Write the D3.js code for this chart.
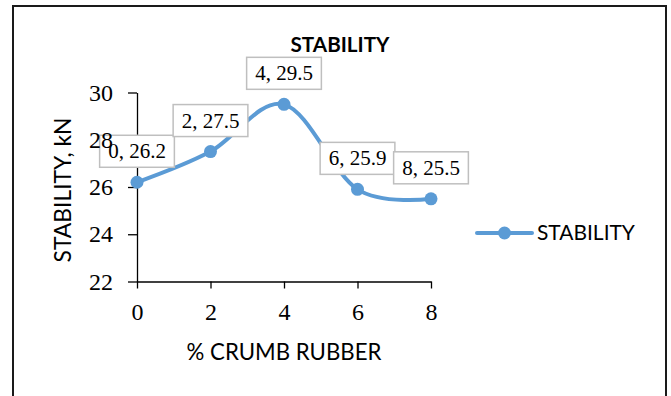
<!DOCTYPE html>
<html>
<head>
<meta charset="utf-8">
<script src="https://cdn.jsdelivr.net/npm/d3@7"></script>
<style>
  body { margin: 0; background: #fff; }
  svg { display: block; }
</style>
</head>
<body>
<div id="chart"></div>
<script>
const crumbRubber = [0, 2, 4, 6, 8];
const stability = [26.2, 27.5, 29.5, 25.9, 25.5];
const xTicks = [0, 2, 4, 6, 8];
const yTicks = [22, 24, 26, 28, 30];
const seriesName = "STABILITY";

const width = 671;
const height = 396;
const blue = "#5B9BD5";
const sans = "Lato, 'Open Sans', sans-serif";
const serif = "'Liberation Serif', 'Times New Roman', serif";

const svg = d3.select("#chart")
    .append("svg")
    .attr("width", width)
    .attr("height", height);

// chart frame (bottom edge runs past the picture)
svg.append("rect")
    .attr("x", 13)
    .attr("y", 6)
    .attr("width", 653)
    .attr("height", 420)
    .attr("fill", "#fff")
    .attr("stroke", "#1a1a1a")
    .attr("stroke-width", 2);

const x = d3.scaleLinear().domain([0, 8]).range([137, 431]);
const y = d3.scaleLinear().domain([22, 30]).range([281.5, 92.5]);

// shrink/grow a sans label so it takes the same room as in the picture
function fitWidth(sel, target) {
    const w = sel.node().getComputedTextLength();
    const size = parseFloat(sel.attr("font-size"));
    sel.attr("font-size", size * target / w);
}

const xAxis = svg.append("g")
    .attr("transform", `translate(0, ${y(22)})`)
    .call(d3.axisBottom(x).tickValues(xTicks).tickSize(7).tickSizeOuter(0).tickPadding(14));

const yAxis = svg.append("g")
    .attr("transform", `translate(${x(0)}, 0)`)
    .call(d3.axisLeft(y).tickValues(yTicks).tickSize(9).tickSizeOuter(0).tickPadding(15));

[xAxis, yAxis].forEach(a => {
    a.select(".domain").attr("stroke", "#000").attr("stroke-width", 1.3);
    a.selectAll(".tick line").attr("stroke", "#000").attr("stroke-width", 1.3);
    a.selectAll("text").remove();
});

const pts = crumbRubber.map((v, i) => ({ x: v, y: stability[i] }));

const line = d3.line()
    .x(d => x(d.x))
    .y(d => y(d.y))
    .curve(d3.curveCatmullRom.alpha(0));

svg.append("path")
    .datum(pts)
    .attr("d", line)
    .attr("fill", "none")
    .attr("stroke", blue)
    .attr("stroke-width", 4)
    .attr("stroke-linecap", "round");

svg.selectAll(".dot")
    .data(pts)
    .enter().append("circle")
    .attr("class", "dot")
    .attr("cx", d => x(d.x))
    .attr("cy", d => y(d.y))
    .attr("r", 6.5)
    .attr("fill", blue);

// data labels in boxes above each point
const labels = svg.selectAll(".dlabel")
    .data(pts)
    .enter().append("g")
    .attr("class", "dlabel")
    .attr("transform", d => `translate(${x(d.x)}, ${y(d.y) - 31})`);

labels.append("rect")
    .attr("y", -16)
    .attr("height", 32)
    .attr("fill", "#fff")
    .attr("stroke", "#bfbfbf")
    .attr("stroke-width", 1.5);

labels.append("text")
    .attr("text-anchor", "middle")
    .attr("dy", "0.33em")
    .attr("font-family", serif)
    .attr("font-size", 21)
    .attr("fill", "#000")
    .text(d => `${d.x}, ${d.y}`);

labels.each(function() {
    const g = d3.select(this);
    const w = g.select("text").node().getComputedTextLength() + 17;
    g.select("rect").attr("x", -w / 2).attr("width", w);
});

// tick labels on top of the label boxes
svg.append("g")
    .attr("transform", `translate(0, ${y(22)})`)
    .call(d3.axisBottom(x).tickValues(xTicks).tickSize(7).tickSizeOuter(0).tickPadding(14))
    .call(g => g.select(".domain").remove())
    .call(g => g.selectAll("line").remove())
    .selectAll("text")
    .attr("font-family", serif)
    .attr("font-size", 24)
    .attr("fill", "#000");

svg.append("g")
    .attr("transform", `translate(${x(0)}, 0)`)
    .call(d3.axisLeft(y).tickValues(yTicks).tickSize(9).tickSizeOuter(0).tickPadding(15))
    .call(g => g.select(".domain").remove())
    .call(g => g.selectAll("line").remove())
    .selectAll("text")
    .attr("font-family", serif)
    .attr("font-size", 24)
    .attr("fill", "#000");

// titles
const title = svg.append("text")
    .attr("x", 340)
    .attr("y", 52)
    .attr("text-anchor", "middle")
    .attr("font-family", sans)
    .attr("font-weight", "bold")
    .attr("font-size", 22)
    .attr("fill", "#000")
    .text("STABILITY");
fitWidth(title, 99);

const xTitle = svg.append("text")
    .attr("x", 284)
    .attr("y", 360)
    .attr("text-anchor", "middle")
    .attr("font-family", sans)
    .attr("font-size", 22)
    .attr("fill", "#000")
    .text("% CRUMB RUBBER");
fitWidth(xTitle, 195);

const yTitle = svg.append("text")
    .attr("transform", "translate(71, 190) rotate(-90)")
    .attr("text-anchor", "middle")
    .attr("font-family", sans)
    .attr("font-size", 22)
    .attr("fill", "#000")
    .text("STABILITY, kN");
fitWidth(yTitle, 145);

// legend
const legend = svg.append("g")
    .attr("transform", "translate(477, 233)");

legend.append("line")
    .attr("x1", 0)
    .attr("x2", 55)
    .attr("stroke", blue)
    .attr("stroke-width", 4)
    .attr("stroke-linecap", "round");

legend.append("circle")
    .attr("cx", 27.5)
    .attr("r", 6.5)
    .attr("fill", blue);

const legendText = legend.append("text")
    .attr("x", 60)
    .attr("y", 7)
    .attr("font-family", sans)
    .attr("font-size", 20)
    .attr("fill", "#000")
    .text(seriesName);
fitWidth(legendText, 98);
</script>
</body>
</html>
